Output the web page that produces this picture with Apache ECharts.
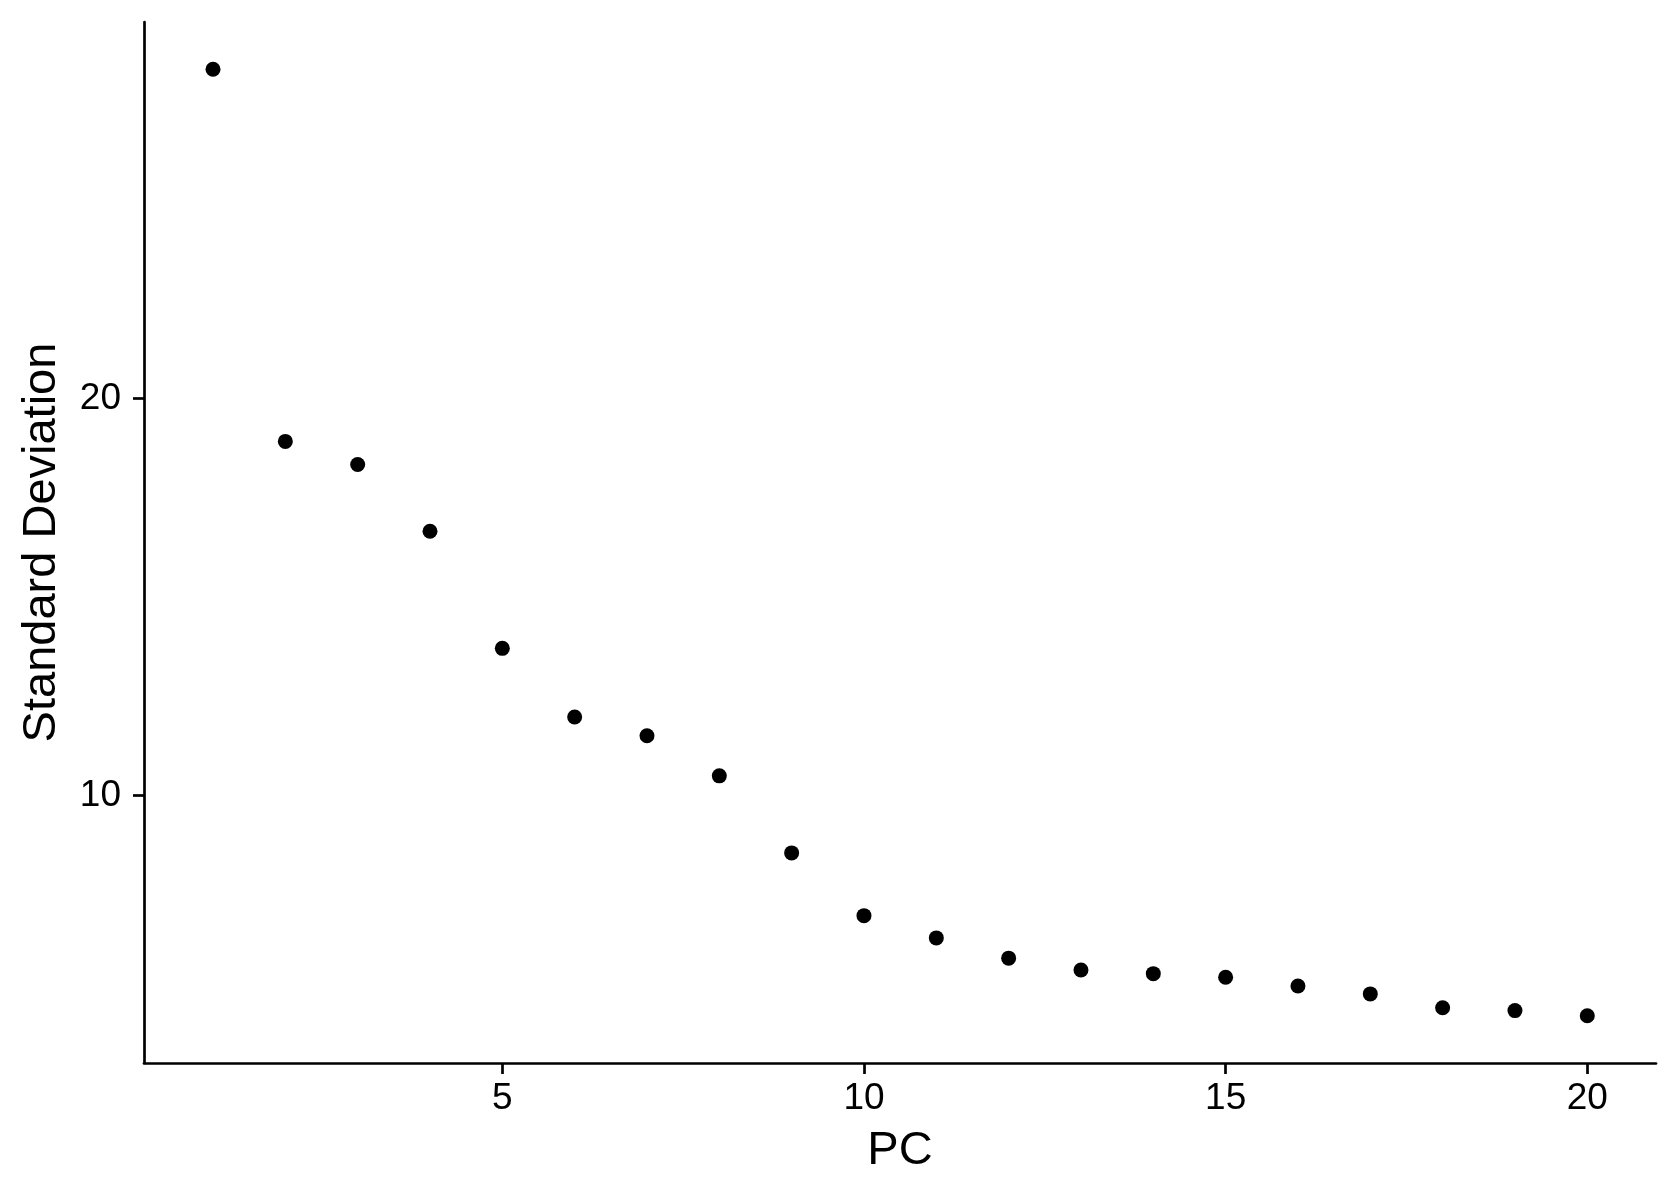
<!DOCTYPE html>
<html>
<head>
<meta charset="utf-8">
<script src="https://cdn.jsdelivr.net/npm/echarts@6/dist/echarts.min.js"></script>
<style>
html,body{margin:0;padding:0;background:#fff;}
#chart{width:1680px;height:1200px;}
</style>
</head>
<body>
<div id="chart"></div>
<script>
const pcs = [1,2,3,4,5,6,7,8,9,10,11,12,13,14,15,16,17,18,19,20];
const stdevs = [28.29,18.92,18.34,16.66,13.71,11.98,11.51,10.50,8.56,6.98,6.42,5.91,5.61,5.52,5.43,5.21,5.01,4.66,4.59,4.46];
const xTicks = [5,10,15,20];
const yTicks = [10,20];

const chart = echarts.init(document.getElementById('chart'), null, {renderer:'canvas'});
const font = '"Liberation Sans", Arial, sans-serif';
const data = pcs.map((p,i)=>[p, stdevs[i]]);
chart.setOption({
  animation:false,
  backgroundColor:'#ffffff',
  grid:{left:144, top:22, width:1512, height:1041, containLabel:false},
  xAxis:{
    type:'value', min:0.046, max:20.95,
    name:'PC', nameLocation:'middle', nameGap:65,
    nameTextStyle:{fontFamily:font, fontSize:47, color:'#000'},
    axisLine:{show:true, onZero:false, lineStyle:{color:'#000', width:2.7}},
    axisTick:{show:true, length:11, lineStyle:{color:'#000', width:2.7},
      customValues:xTicks},
    axisLabel:{fontFamily:font, fontSize:37, color:'#000', margin:17,
      customValues:xTicks},
    splitLine:{show:false}
  },
  yAxis:{
    type:'value', min:3.27, max:29.48,
    name:'Standard Deviation', nameLocation:'middle', nameGap:78,
    nameTextStyle:{fontFamily:font, fontSize:47, color:'#000'},
    axisLine:{show:true, onZero:false, lineStyle:{color:'#000', width:2.7}},
    axisTick:{show:true, length:11, lineStyle:{color:'#000', width:2.7},
      customValues:yTicks},
    axisLabel:{fontFamily:font, fontSize:37, color:'#000', margin:23,
      customValues:yTicks},
    splitLine:{show:false}
  },
  series:[{
    type:'scatter',
    data:data,
    symbol:'circle',
    symbolSize:15,
    itemStyle:{color:'#000', opacity:1},
    silent:true
  }]
});
</script>
</body>
</html>
